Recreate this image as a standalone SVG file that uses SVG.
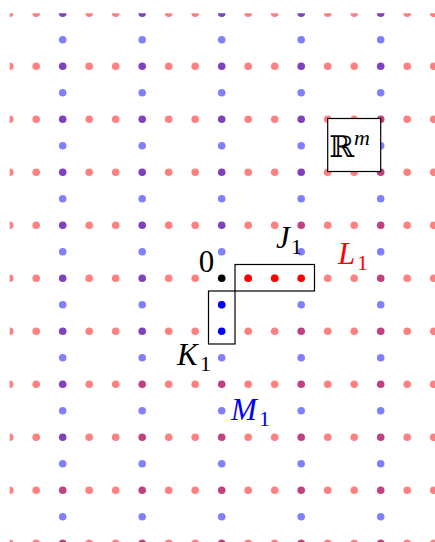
<svg xmlns="http://www.w3.org/2000/svg" xmlns:xlink="http://www.w3.org/1999/xlink" width="435" height="542" viewBox="0 0 435 542">
<style>
.r{fill:#ff8080}.b{fill:#8080ff}.p{fill:#8040c0}.m{fill:#c04080}
.box{fill:none;stroke:#000;stroke-width:1.2}
.t{font-family:"Liberation Serif","DejaVu Serif",serif;font-style:italic;font-size:31px}
.s{font-family:"Liberation Serif","DejaVu Serif",serif;font-size:22px}
</style>
<defs>
<clipPath id="clip"><rect x="9.7" y="13.3" width="430" height="535"/></clipPath>
<g id="redrow">
<circle class="r" cx="9.7" cy="0" r="3.8"/><circle class="r" cx="36.2" cy="0" r="3.8"/>
<circle class="r" cx="89.2" cy="0" r="3.8"/><circle class="r" cx="115.7" cy="0" r="3.8"/>
<circle class="r" cx="168.7" cy="0" r="3.8"/><circle class="r" cx="195.2" cy="0" r="3.8"/>
<circle class="r" cx="248.2" cy="0" r="3.8"/><circle class="r" cx="274.7" cy="0" r="3.8"/>
<circle class="r" cx="327.7" cy="0" r="3.8"/><circle class="r" cx="354.2" cy="0" r="3.8"/>
<circle class="r" cx="407.2" cy="0" r="3.8"/><circle class="r" cx="433.7" cy="0" r="3.8"/>
</g>
<g id="bluecol">
<circle class="b" cx="0" cy="39.8" r="3.8"/><circle class="b" cx="0" cy="92.8" r="3.8"/>
<circle class="b" cx="0" cy="145.8" r="3.8"/><circle class="b" cx="0" cy="198.8" r="3.8"/>
<circle class="b" cx="0" cy="251.8" r="3.8"/><circle class="b" cx="0" cy="304.8" r="3.8"/>
<circle class="b" cx="0" cy="357.8" r="3.8"/><circle class="b" cx="0" cy="410.8" r="3.8"/>
<circle class="b" cx="0" cy="463.8" r="3.8"/><circle class="b" cx="0" cy="516.8" r="3.8"/>
</g>
</defs>
<rect width="435" height="542" fill="#fff"/>
<g id="lattice" clip-path="url(#clip)">
<use xlink:href="#redrow" y="13.3"/><use xlink:href="#redrow" y="66.3"/>
<use xlink:href="#redrow" y="119.3"/><use xlink:href="#redrow" y="172.3"/>
<use xlink:href="#redrow" y="225.3"/><use xlink:href="#redrow" y="278.3"/>
<use xlink:href="#redrow" y="331.3"/><use xlink:href="#redrow" y="384.3"/>
<use xlink:href="#redrow" y="437.3"/><use xlink:href="#redrow" y="490.3"/>
<use xlink:href="#redrow" y="543.3"/>
<use xlink:href="#bluecol" x="62.7"/><use xlink:href="#bluecol" x="142.2"/>
<use xlink:href="#bluecol" x="221.7"/><use xlink:href="#bluecol" x="301.2"/>
<use xlink:href="#bluecol" x="380.7"/>
<circle class="p" cx="62.7" cy="13.3" r="3.8"/><circle class="p" cx="62.7" cy="66.3" r="3.8"/>
<circle class="p" cx="62.7" cy="119.3" r="3.8"/><circle class="p" cx="62.7" cy="172.3" r="3.8"/>
<circle class="p" cx="62.7" cy="225.3" r="3.8"/><circle class="p" cx="62.7" cy="278.3" r="3.8"/>
<circle class="p" cx="62.7" cy="331.3" r="3.8"/><circle class="p" cx="62.7" cy="384.3" r="3.8"/>
<circle class="p" cx="62.7" cy="437.3" r="3.8"/><circle class="m" cx="62.7" cy="490.3" r="3.8"/>
<circle class="m" cx="62.7" cy="543.3" r="3.8"/>
<circle class="p" cx="142.2" cy="13.3" r="3.8"/><circle class="p" cx="142.2" cy="66.3" r="3.8"/>
<circle class="p" cx="142.2" cy="119.3" r="3.8"/><circle class="p" cx="142.2" cy="172.3" r="3.8"/>
<circle class="p" cx="142.2" cy="225.3" r="3.8"/><circle class="p" cx="142.2" cy="278.3" r="3.8"/>
<circle class="p" cx="142.2" cy="331.3" r="3.8"/><circle class="m" cx="142.2" cy="384.3" r="3.8"/>
<circle class="m" cx="142.2" cy="437.3" r="3.8"/><circle class="m" cx="142.2" cy="490.3" r="3.8"/>
<circle class="m" cx="142.2" cy="543.3" r="3.8"/>
<circle class="p" cx="221.7" cy="13.3" r="3.8"/><circle class="p" cx="221.7" cy="66.3" r="3.8"/>
<circle class="p" cx="221.7" cy="119.3" r="3.8"/><circle class="p" cx="221.7" cy="172.3" r="3.8"/>
<circle class="p" cx="221.7" cy="225.3" r="3.8"/>
<circle class="m" cx="221.7" cy="384.3" r="3.8"/>
<circle class="m" cx="221.7" cy="437.3" r="3.8"/><circle class="m" cx="221.7" cy="490.3" r="3.8"/>
<circle class="m" cx="221.7" cy="543.3" r="3.8"/>
<circle class="p" cx="301.2" cy="13.3" r="3.8"/><circle class="p" cx="301.2" cy="66.3" r="3.8"/>
<circle class="p" cx="301.2" cy="119.3" r="3.8"/><circle class="p" cx="301.2" cy="172.3" r="3.8"/>
<circle class="m" cx="301.2" cy="225.3" r="3.8"/>
<circle class="m" cx="301.2" cy="331.3" r="3.8"/><circle class="m" cx="301.2" cy="384.3" r="3.8"/>
<circle class="m" cx="301.2" cy="437.3" r="3.8"/><circle class="m" cx="301.2" cy="490.3" r="3.8"/>
<circle class="m" cx="301.2" cy="543.3" r="3.8"/>
<circle class="p" cx="380.7" cy="13.3" r="3.8"/><circle class="p" cx="380.7" cy="66.3" r="3.8"/>
<circle class="m" cx="380.7" cy="119.3" r="3.8"/><circle class="m" cx="380.7" cy="172.3" r="3.8"/>
<circle class="m" cx="380.7" cy="225.3" r="3.8"/><circle class="m" cx="380.7" cy="278.3" r="3.8"/>
<circle class="m" cx="380.7" cy="331.3" r="3.8"/><circle class="m" cx="380.7" cy="384.3" r="3.8"/>
<circle class="m" cx="380.7" cy="437.3" r="3.8"/><circle class="m" cx="380.7" cy="490.3" r="3.8"/>
<circle class="m" cx="380.7" cy="543.3" r="3.8"/>
</g>
<g id="origin">
<circle cx="221.7" cy="278.3" r="3.8" fill="#000"/>
<text class="t" x="206.5" y="271.5" text-anchor="middle" style="font-style:normal">0</text>
</g>
<g id="J1">
<circle cx="248.2" cy="278.3" r="3.8" fill="#ff0000"/>
<circle cx="274.7" cy="278.3" r="3.8" fill="#ff0000"/>
<circle cx="301.2" cy="278.3" r="3.8" fill="#ff0000"/>
<rect class="box" x="235" y="264.5" width="79.5" height="26.5"/>
<text class="t" x="276" y="248">J</text><text class="s" x="291" y="254">1</text>
</g>
<g id="K1">
<circle cx="221.7" cy="304.8" r="3.8" fill="#0000ff"/>
<circle cx="221.7" cy="331.3" r="3.8" fill="#0000ff"/>
<rect class="box" x="208.5" y="291" width="26.5" height="53"/>
<text class="t" x="177" y="365">K</text><text class="s" x="200" y="371">1</text>
</g>
<g id="L1">
<text class="t" x="338" y="264" fill="#ff0000">L</text><text class="s" x="357" y="270" fill="#ff0000">1</text>
</g>
<g id="M1">
<text class="t" x="231" y="420" fill="#0000ff">M</text><text class="s" x="259" y="426" fill="#0000ff">1</text>
</g>
<g id="Rm">
<rect x="327.7" y="118.5" width="53" height="53" fill="#fff" stroke="#000" stroke-width="1.2"/>
<text x="329" y="157" style="font-family:'DejaVu Serif','DejaVu Sans',serif;font-size:30px">ℝ</text>
<text x="354" y="145" style="font-family:'Liberation Serif',serif;font-style:italic;font-size:22px">m</text>
</g>
</svg>
